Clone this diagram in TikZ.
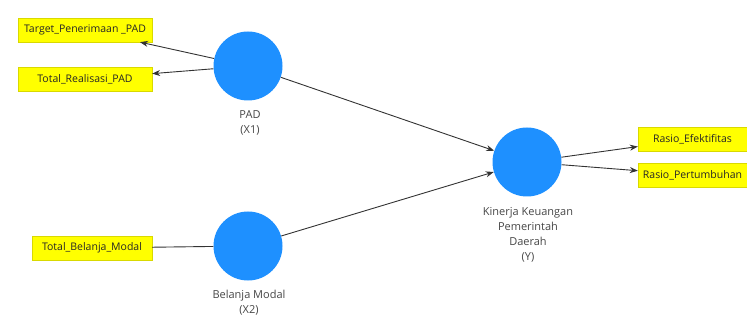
\documentclass[tikz,border=0pt]{standalone}
\usepackage{fontspec}
\setmainfont{Open Sans}
\usetikzlibrary{arrows.meta}
\definecolor{lvblue}{RGB}{30,144,255}
\definecolor{indyel}{RGB}{255,255,0}
\definecolor{lblgray}{RGB}{70,70,70}
\tikzset{
  latent/.style={circle, fill=lvblue, draw=none, minimum size=69pt, inner sep=0pt},
  indic/.style={rectangle, fill=indyel, draw=indyel!85!black, line width=0.3pt, inner sep=0pt, minimum height=24pt, font=\fontsize{10.5}{12}\selectfont, text=black!85},
  lvlabel/.style={align=center, font=\fontsize{11}{15}\selectfont, text=lblgray, inner sep=0pt},
  conn/.style={draw=black!80, line width=0.9pt},
  arr/.style={conn, -{Stealth[length=8pt,width=6pt]}}
}
\begin{document}
\begin{tikzpicture}[x=1pt,y=-1pt]
\useasboundingbox (0,0) rectangle (747,323);
\node[latent] (pad) at (248,66) {};
\node[latent] (bm) at (248,246) {};
\node[latent] (y) at (527,162) {};
\node[lvlabel, anchor=north] (padl) at (250,110) {PAD\\(X1)};
\node[lvlabel, anchor=north] (bml) at (249,290) {Belanja Modal\\(X2)};
\node[lvlabel, anchor=north] (yl) at (528,207) {Kinerja Keuangan\\Pemerintah\\Daerah\\(Y)};
\node[indic, minimum width=134pt] (t1) at (85,30) {Target\_Penerimaan \_PAD};
\node[indic, minimum width=134pt] (t2) at (85,79) {Total\_Realisasi\_PAD};
\node[indic, minimum width=120pt] (t3) at (92,248) {Total\_Belanja\_Modal};
\node[indic, minimum width=109pt] (r1) at (692.5,139) {Rasio\_Efektifitas};
\node[indic, minimum width=109pt] (r2) at (692.5,175) {Rasio\_Pertumbuhan};
\draw[arr] (pad) -- (t1);
\draw[arr] (pad) -- (t2);
\draw[conn] (t3) -- (bm);
\draw[arr] (pad) -- (y);
\draw[arr] (bm) -- (y);
\draw[arr] (y) -- (r1);
\draw[arr] (y) -- (r2);
\end{tikzpicture}
\end{document}
